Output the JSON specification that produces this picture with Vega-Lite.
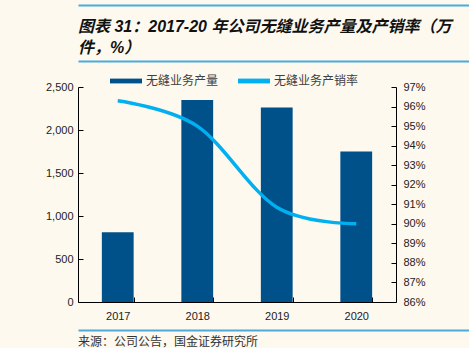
{
  "$schema": "https://vega.github.io/schema/vega-lite/v6.json",
  "background": "#FDF9EF",
  "padding": {"left": 28, "top": 5, "right": 0, "bottom": 0},
  "spacing": 4,
  "config": {
    "view": {"stroke": null},
    "font": "Liberation Sans"
  },
  "resolve": {"scale": {"color": "independent"}, "legend": {"color": "independent"}},
  "datasets": {
    "main": [
      {"year": "2017", "output": 810, "rate": 0.963},
      {"year": "2018", "output": 2348, "rate": 0.950},
      {"year": "2019", "output": 2262, "rate": 0.9085},
      {"year": "2020", "output": 1750, "rate": 0.900}
    ],
    "sep": [{"k": 0}]
  },
  "vconcat": [
    {
      "width": 441,
      "height": 1,
      "title": {
        "text": ["图表 31：2017-20 年公司无缝业务产量及产销率（万", "件，%）"],
        "orient": "bottom",
        "anchor": "start",
        "offset": 13,
        "font": "Liberation Sans, Noto Sans CJK SC",
        "fontSize": 16,
        "fontWeight": "bold",
        "fontStyle": "italic",
        "lineHeight": 21,
        "color": "#111111"
      },
      "data": {"name": "sep"},
      "mark": {"type": "rule", "opacity": 0},
      "encoding": {
        "x": {"field": "k", "type": "quantitative", "axis": {"orient": "top", "domainColor": "#4BA9DB", "domainWidth": 2, "ticks": false, "labels": false, "grid": false, "title": null}}
      }
    },
    {
      "width": 441,
      "height": 1,
      "data": {"name": "sep"},
      "mark": {"type": "rule", "opacity": 0},
      "encoding": {
        "x": {"field": "k", "type": "quantitative", "axis": {"orient": "bottom", "domainColor": "#4BA9DB", "domainWidth": 2, "ticks": false, "labels": false, "grid": false, "title": null}}
      }
    },
    {
      "width": 318,
      "height": 215,
      "data": {"name": "main"},
      "encoding": {
        "x": {
          "field": "year",
          "type": "ordinal",
          "scale": {"paddingInner": 0.6, "paddingOuter": 0.3},
          "axis": {
            "title": null,
            "labelAngle": 0,
            "labelFont": "Liberation Sans",
            "labelFontSize": 11,
            "labelColor": "#222222",
            "domainColor": "#000000",
            "tickColor": "#000000",
            "tickBand": "extent",
            "tickSize": -5,
            "labelPadding": 13,
            "minExtent": 24,
            "maxExtent": 24
          }
        }
      },
      "layer": [
        {
          "mark": {"type": "bar", "color": "#00508A"},
          "encoding": {
            "y": {
              "field": "output",
              "type": "quantitative",
              "scale": {"domain": [0, 2500]},
              "axis": {
                "title": null,
                "values": [0, 500, 1000, 1500, 2000, 2500],
                "format": ",.0f",
                "grid": false,
                "labelFont": "Liberation Sans",
                "labelFontSize": 11,
                "labelColor": "#222222",
                "domainColor": "#000000",
                "tickColor": "#000000",
                "tickSize": -5,
                "labelPadding": 10,
                "minExtent": 50,
                "maxExtent": 50
              }
            },
            "color": {
              "datum": "无缝业务产量",
              "type": "nominal",
              "scale": {"domain": ["无缝业务产量", "无缝业务产销率"], "range": ["#00508A", "#00B0F0"]},
              "legend": {
                "title": null,
                "orient": "none",
                "direction": "horizontal",
                "legendX": 32,
                "legendY": -22,
                "symbolType": "M-1,-0.15H1V0.15H-1Z",
                "symbolSize": 1024,
                "symbolStrokeWidth": 0,
                "labelFont": "Noto Sans CJK SC",
                "labelFontSize": 12,
                "labelColor": "#404040",
                "labelOffset": 4,
                "columnPadding": 19,
                "encode": {
                  "symbols": {"update": {"fill": {"scale": "color", "field": "value"}, "stroke": {"value": "transparent"}}}
                }
              }
            }
          }
        },
        {
          "mark": {"type": "line", "interpolate": "cardinal", "tension": 0, "strokeWidth": 3.5},
          "encoding": {
            "y": {
              "field": "rate",
              "type": "quantitative",
              "scale": {"domain": [0.86, 0.97]},
              "axis": {
                "title": null,
                "orient": "right",
                "values": [0.86, 0.87, 0.88, 0.89, 0.9, 0.91, 0.92, 0.93, 0.94, 0.95, 0.96, 0.97],
                "format": ".0%",
                "grid": false,
                "labelFont": "Liberation Sans",
                "labelFontSize": 11,
                "labelColor": "#222222",
                "domainColor": "#000000",
                "tickColor": "#000000",
                "tickSize": -5,
                "labelPadding": 12
              }
            },
            "color": {"datum": "无缝业务产销率", "type": "nominal"}
          }
        }
      ],
      "resolve": {"scale": {"y": "independent"}}
    },
    {
      "width": 441,
      "height": 1,
      "title": {
        "text": "来源：公司公告，国金证券研究所",
        "orient": "bottom",
        "anchor": "start",
        "offset": 6,
        "font": "Noto Sans CJK SC",
        "fontSize": 12,
        "fontWeight": "normal",
        "color": "#333333"
      },
      "data": {"name": "sep"},
      "mark": {"type": "rule", "opacity": 0},
      "encoding": {
        "x": {"field": "k", "type": "quantitative", "axis": {"orient": "top", "domainColor": "#4BA9DB", "domainWidth": 2, "ticks": false, "labels": false, "grid": false, "title": null}}
      }
    }
  ]
}
